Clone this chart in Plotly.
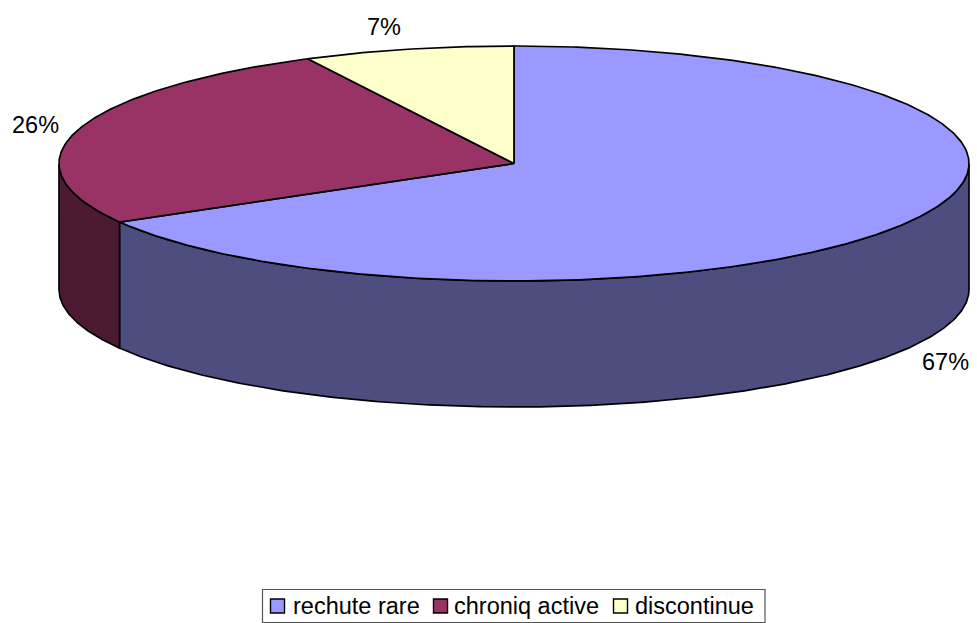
import numpy as np
import plotly.graph_objects as go

categories = ["rechute rare", "chroniq active", "discontinue"]
values = [66.7, 25.81, 7.49]
percent_labels = ["67%", "26%", "7%"]
top_colors = ["#9999FF", "#993366", "#FFFFCC"]
side_colors = ["#4D4D80", "#4D1A33", "#80805F"]

W, H = 977, 623
CX, CY, RX, RY, DEPTH = 514.0, 163.5, 455.0, 117.5, 126.0
LINE = 1.7


def arc(a0, a1, dy=0.0):
    n = max(2, int(abs(a1 - a0) * 2) + 2)
    t = np.radians(np.linspace(a0, a1, n))
    return CX + RX * np.sin(t), CY - RY * np.cos(t) + dy


fig = go.Figure()
edges = np.concatenate([[0], np.cumsum(values)]) / sum(values) * 360

# side walls (only the front half of the ellipse, 90..270 degrees)
for i in range(len(values)):
    a0, a1 = max(edges[i], 90), min(edges[i + 1], 270)
    if a1 <= a0:
        continue
    x0, y0 = arc(a0, a1)
    x1, y1 = arc(a1, a0, DEPTH)
    fig.add_trace(go.Scatter(
        x=np.r_[x0, x1, x0[0]], y=np.r_[y0, y1, y0[0]], mode="lines",
        fill="toself", fillcolor=side_colors[i],
        line=dict(color="black", width=LINE), showlegend=False, hoverinfo="skip"))

# top slices
for i in range(len(values)):
    x0, y0 = arc(edges[i], edges[i + 1])
    fig.add_trace(go.Scatter(
        x=np.r_[CX, x0, CX], y=np.r_[CY, y0, CY], mode="lines",
        fill="toself", fillcolor=top_colors[i],
        line=dict(color="black", width=LINE), name=categories[i],
        showlegend=False, hoverinfo="skip"))

# legend swatches
legend_x = [277.5, 440.5, 620.5]
legend_text_x = [291, 452, 633]
fig.add_trace(go.Scatter(
    x=legend_x, y=[606] * 3, mode="markers",
    marker=dict(symbol="square", size=14, color=top_colors,
                line=dict(color="black", width=1.4)),
    showlegend=False, hoverinfo="skip"))

FONT = dict(family="Liberation Sans, Arial, sans-serif", size=23.5, color="black")
annotations = []
for txt, (ax, ay) in zip(percent_labels, [(945.5, 362), (35, 125), (384, 27)]):
    annotations.append(dict(x=ax, y=ay, text=txt, showarrow=False, font=FONT,
                            xanchor="center", yanchor="middle"))
for txt, tx in zip(categories, legend_text_x):
    annotations.append(dict(x=tx, y=605.5, text=txt, showarrow=False, font=FONT,
                            xanchor="left", yanchor="middle"))

fig.update_layout(
    width=W, height=H, margin=dict(l=0, r=0, t=0, b=0),
    paper_bgcolor="white", plot_bgcolor="white", showlegend=False,
    xaxis=dict(range=[0, W], visible=False, fixedrange=True),
    yaxis=dict(range=[H, 0], visible=False, fixedrange=True),
    annotations=annotations,
    shapes=[dict(type="rect", x0=262.5, x1=765, y0=589.5, y1=622.5,
                 line=dict(color="#555555", width=1.2), fillcolor="white", layer="below")],
)
fig.write_html("out.html", config={"displayModeBar": False},
               post_script="document.body.style.margin='0';document.body.style.overflow='hidden';")
